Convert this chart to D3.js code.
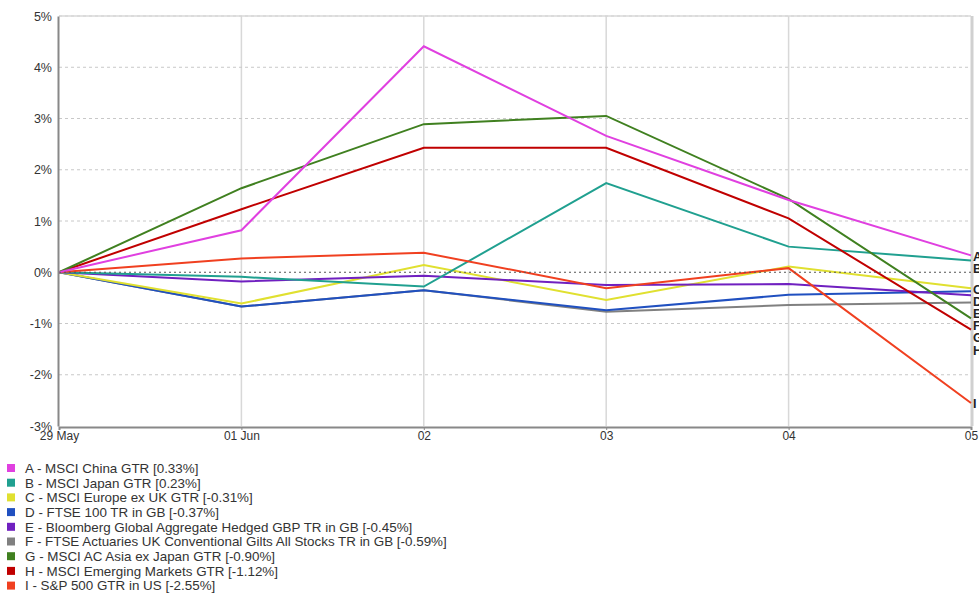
<!DOCTYPE html>
<html><head><meta charset="utf-8">
<script src="https://cdn.jsdelivr.net/npm/d3@7"></script>
<style>body{margin:0;background:#fff;overflow:hidden}svg{display:block;font-family:"Liberation Sans",Arial,sans-serif}</style>
</head><body><svg id="c" width="979" height="594"></svg>
<script>
const dates = ["29 May","01 Jun","02","03","04","05"];
const yTicks = [-3,-2,-1,0,1,2,3,4,5];
const letters = ["A","B","C","D","E","F","G","H","I"];
const names = [
 "A - MSCI China GTR [0.33%]",
 "B - MSCI Japan GTR [0.23%]",
 "C - MSCI Europe ex UK GTR [-0.31%]",
 "D - FTSE 100 TR in GB [-0.37%]",
 "E - Bloomberg Global Aggregate Hedged GBP TR in GB [-0.45%]",
 "F - FTSE Actuaries UK Conventional Gilts All Stocks TR in GB [-0.59%]",
 "G - MSCI AC Asia ex Japan GTR [-0.90%]",
 "H - MSCI Emerging Markets GTR [-1.12%]",
 "I - S&P 500 GTR in US [-2.55%]"];
const colors = ["#e040e0","#20a090","#e0e030","#2050c0","#7020c0","#808080","#408020","#c00000","#f04020"];
const sA = [0, 0.82, 4.41, 2.66, 1.41, 0.33];
const sB = [0, -0.09, -0.28, 1.74, 0.50, 0.23];
const sC = [0, -0.61, 0.14, -0.54, 0.11, -0.31];
const sD = [0, -0.67, -0.35, -0.74, -0.44, -0.37];
const sE = [0, -0.18, -0.07, -0.25, -0.23, -0.45];
const sF = [0, -0.67, -0.35, -0.77, -0.64, -0.59];
const sG = [0, 1.64, 2.89, 3.05, 1.43, -0.90];
const sH = [0, 1.23, 2.43, 2.43, 1.05, -1.12];
const sI = [0, 0.27, 0.38, -0.31, 0.08, -2.55];
const series = [sA,sB,sC,sD,sE,sF,sG,sH,sI];

const svg = d3.select("#c");
const L=59, R=971, T=16, B=426;
const x = d3.scalePoint().domain(dates).range([L,R]);
const y = d3.scaleLinear().domain([-3,5]).range([B,T]);

svg.append("g").selectAll("line").data(dates.slice(1,-1)).join("line")
 .attr("x1",d=>x(d)).attr("x2",d=>x(d)).attr("y1",T).attr("y2",B)
 .attr("stroke","#d8d8d8").attr("stroke-width",1.5);
svg.append("g").selectAll("line").data(yTicks.filter(d=>d!==0&&d!==-3)).join("line")
 .attr("x1",L).attr("x2",R).attr("y1",d=>y(d)).attr("y2",d=>y(d))
 .attr("stroke","#c8c8c8").attr("stroke-dasharray","3,3");
svg.append("line").attr("x1",L).attr("x2",R).attr("y1",T).attr("y2",T).attr("stroke","#d8d8d8").attr("stroke-width",1.5);
svg.append("line").attr("x1",R+1).attr("x2",R+1).attr("y1",T).attr("y2",B).attr("stroke","#d0d0d0").attr("stroke-width",3);

const line = d3.line().x((d,i)=>x(dates[i])).y(d=>y(d));
const order = [5,3,2,4,1,8,7,6,0];
svg.append("g").selectAll("path").data(order).join("path")
 .attr("d",k=>line(series[k])).attr("fill","none").attr("stroke",k=>colors[k]).attr("stroke-width",2);

svg.append("line").attr("x1",L).attr("x2",R).attr("y1",y(0)).attr("y2",y(0))
 .attr("stroke","#555").attr("stroke-dasharray","2,3").attr("stroke-width",1.2);

const yAxis = d3.axisLeft(y).tickValues(yTicks).tickFormat(d=>d+"%").tickSize(0).tickPadding(6);
const gy = svg.append("g").attr("transform",`translate(${L-1},0)`).call(yAxis);
gy.select(".domain").attr("stroke","#888").attr("stroke-width",2);
gy.selectAll("text").attr("font-size",12.5).attr("fill","#333").attr("font-family","Liberation Sans, Arial");
const xAxis = d3.axisBottom(x).tickSize(3).tickPadding(1);
const gx = svg.append("g").attr("transform",`translate(0,${B+1})`).call(xAxis);
gx.select(".domain").attr("stroke","#888").attr("stroke-width",2);
gx.selectAll(".tick line").attr("stroke","#888");
gx.selectAll("text").attr("font-size",12).attr("fill","#333").attr("font-family","Liberation Sans, Arial");

const ends = series.map((s,i)=>({i, yv:y(s[s.length-1])})).sort((a,b)=>a.yv-b.yv);
let prev=-1e9;
ends.forEach(e=>{ e.ly=Math.max(e.yv+1, prev+12.2); prev=e.ly; });
svg.append("g").selectAll("text").data(ends).join("text")
 .attr("x",R+2).attr("y",e=>e.ly).attr("dy","0.35em")
 .attr("font-size",12.5).attr("font-weight","bold").attr("fill","#222").text(e=>letters[e.i]);

const lg = svg.append("g").selectAll("g").data(names).join("g")
 .attr("transform",(d,i)=>`translate(0,${468+i*14.7})`);
lg.append("rect").attr("x",7).attr("y",-4).attr("width",8).attr("height",8).attr("fill",(d,i)=>colors[i]);
lg.append("text").attr("x",25).attr("y",0).attr("dy","0.36em").attr("font-size",13.4).attr("fill","#333").text(d=>d);
</script></body></html>
